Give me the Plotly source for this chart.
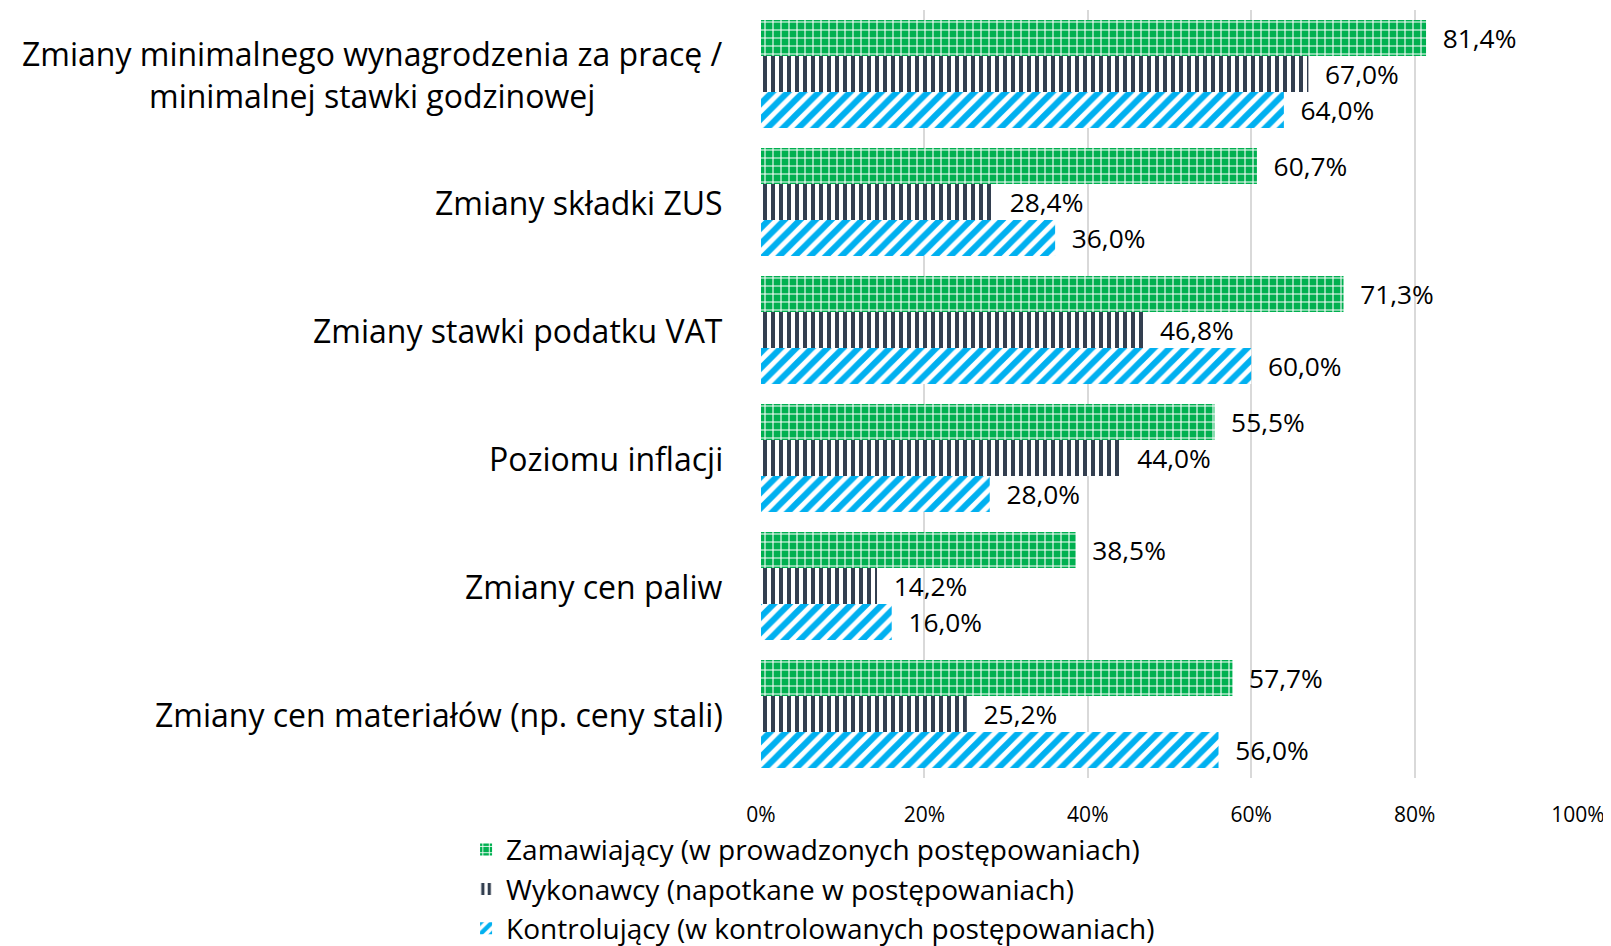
import plotly.graph_objects as go

categories = [
    "Zmiany minimalnego wynagrodzenia za pracę /<br>minimalnej stawki godzinowej",
    "Zmiany składki ZUS",
    "Zmiany stawki podatku VAT",
    "Poziomu inflacji",
    "Zmiany cen paliw",
    "Zmiany cen materiałów (np. ceny stali)",
]
series_names = [
    "Zamawiający (w prowadzonych postępowaniach)",
    "Wykonawcy (napotkane w postępowaniach)",
    "Kontrolujący (w kontrolowanych postępowaniach)",
]
zamawiajacy = [81.4, 60.7, 71.3, 55.5, 38.5, 57.7]
wykonawcy = [67.0, 28.4, 46.8, 44.0, 14.2, 25.2]
kontrolujacy = [64.0, 36.0, 60.0, 28.0, 16.0, 56.0]
tick_vals = [0, 20, 40, 60, 80, 100]
tick_text = ["0%", "20%", "40%", "60%", "80%", "100%"]

FONT = "Open Sans, Noto Sans, sans-serif"

styles = [
    dict(color="#00B050", pattern=dict(shape="+", fgcolor="white", bgcolor="#00B050",
                                       size=8, solidity=0.25, fillmode="replace")),
    dict(color="white", pattern=dict(shape="|", fgcolor="#333F50", bgcolor="white",
                                     size=8, solidity=0.5, fillmode="replace")),
    dict(color="white", pattern=dict(shape="/", fgcolor="#00B0F0", bgcolor="white",
                                     size=11, solidity=0.55, fillmode="replace")),
]


def fmt(v):
    return "\u00a0\u00a0" + f"{v:.1f}".replace(".", ",") + "%"


fig = go.Figure()
for name, vals, st in zip(series_names, [zamawiajacy, wykonawcy, kontrolujacy], styles):
    fig.add_trace(go.Bar(
        y=categories, x=vals, orientation="h", name=name,
        marker=dict(color=st["color"], pattern=st["pattern"], line=dict(width=0)),
        text=[fmt(v) for v in vals], textposition="outside",
        textfont=dict(family=FONT, size=27, color="#000000"),
        cliponaxis=False,
    ))

for c in categories:
    fig.add_annotation(
        x=-0.044, xref="paper", y=c, yref="y", text=c, showarrow=False,
        xanchor="right", yanchor="middle", align="center",
        font=dict(family=FONT, size=32, color="#000000"),
    )

fig.update_layout(
    width=1611, height=946,
    barmode="group", bargap=0.155, bargroupgap=0.0,
    plot_bgcolor="white", paper_bgcolor="white",
    margin=dict(l=753, r=41, t=2, b=176, autoexpand=False),
    font=dict(family=FONT, color="#000000"),
    legend=dict(
        x=-0.361, y=-0.061, xanchor="left", yanchor="top",
        orientation="v", traceorder="normal",
        font=dict(family=FONT, size=28, color="#000000"),
        itemwidth=30, tracegroupgap=0, bgcolor="rgba(0,0,0,0)",
    ),
    xaxis=dict(
        range=[0, 100], tickvals=tick_vals, ticktext=tick_text,
        showgrid=True, gridcolor="#D9D9D9", gridwidth=2,
        zeroline=False, showline=False, automargin=False,
        tickfont=dict(family=FONT, size=21, color="#000000"),
        ticks="", ticklabelstandoff=22,
    ),
    yaxis=dict(
        autorange="reversed", showticklabels=False, ticks="", automargin=False,
        showgrid=False, showline=False, zeroline=False,
    ),
    showlegend=True,
)

fig.write_html("out.html")
